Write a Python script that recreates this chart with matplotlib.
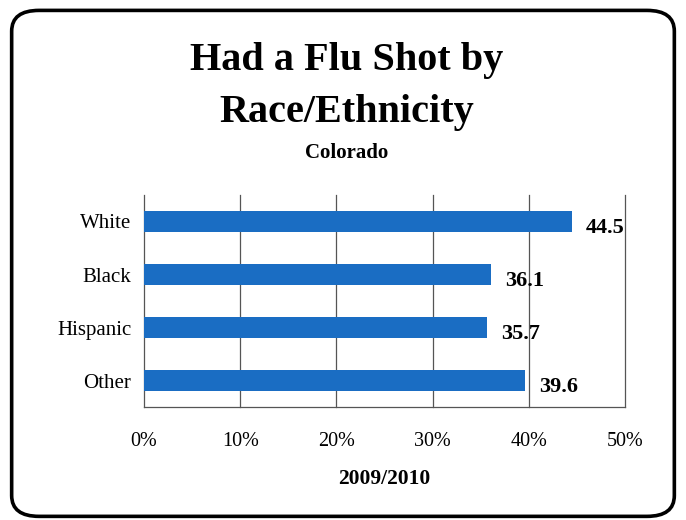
import matplotlib
matplotlib.use("Agg")
import matplotlib.pyplot as plt
from matplotlib.patches import FancyBboxPatch
from matplotlib.ticker import FuncFormatter

categories = ["White", "Black", "Hispanic", "Other"]
values = [44.5, 36.1, 35.7, 39.6]
xticks = [0, 10, 20, 30, 40, 50]

bar_color = "#1A6DC3"
grid_color = "#555555"
serif = ["Liberation Serif", "DejaVu Serif"]

fig = plt.figure(figsize=(6.86, 5.2), dpi=100)
fig.patch.set_facecolor("white")

# rounded frame around the whole chart
frame = FancyBboxPatch((0.017, 0.007), 0.966, 0.973,
                       boxstyle="round,pad=0,rounding_size=0.04",
                       transform=fig.transFigure, fill=False,
                       edgecolor="black", linewidth=2.6)
fig.patches.append(frame)

fig.text(0.505, 0.883, "Had a Flu Shot by", ha="center", va="center",
         fontsize=29, fontweight="bold", family=serif)
fig.text(0.505, 0.784, "Race/Ethnicity", ha="center", va="center",
         fontsize=29, fontweight="bold", family=serif)
fig.text(0.505, 0.706, "Colorado", ha="center", va="center",
         fontsize=15, fontweight="bold", family=serif)

ax = fig.add_axes([144 / 686, 1 - 407 / 520, (625 - 144) / 686, (407 - 195) / 520])
y = list(range(len(categories)))
ax.barh(y, values, height=0.4, color=bar_color, zorder=3)
ax.set_ylim(len(categories) - 0.5, -0.5)
ax.set_xlim(0, 50)
ax.set_xticks(xticks)
ax.xaxis.set_major_formatter(FuncFormatter(lambda v, p: f"{v:.0f}%"))
ax.set_yticks(y)
ax.set_yticklabels(categories)
for xv in xticks[1:]:
    ax.axvline(xv, color=grid_color, linewidth=0.9, zorder=0, clip_on=False)
for s in ["top", "right"]:
    ax.spines[s].set_visible(False)
for s in ["left", "bottom"]:
    ax.spines[s].set_color(grid_color)
    ax.spines[s].set_linewidth(0.9)
ax.tick_params(axis="both", length=0)
ax.tick_params(axis="x", pad=18, labelsize=14.5)
ax.tick_params(axis="y", pad=9, labelsize=15)
for lbl in ax.get_xticklabels() + ax.get_yticklabels():
    lbl.set_family(serif)

for yi, v in zip(y, values):
    ax.annotate(f"{v:.1f}", xy=(v, yi), xytext=(10, -5), textcoords="offset points",
                ha="left", va="center", fontsize=16, fontweight="bold",
                family=serif, zorder=4)

ax.set_xlabel("2009/2010", fontsize=15.5, fontweight="bold", family=serif, labelpad=13)

fig.savefig("out.png", dpi=100, facecolor="white")
